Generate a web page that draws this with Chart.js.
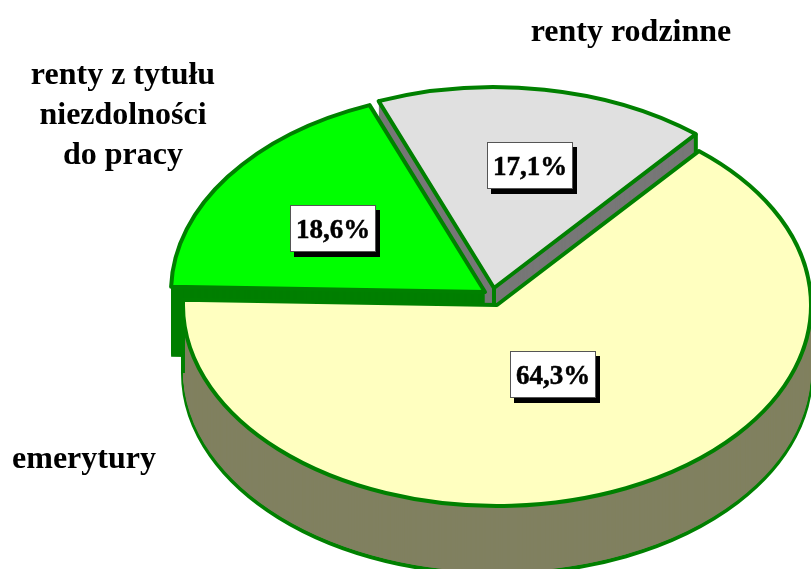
<!DOCTYPE html>
<html>
<head>
<meta charset="utf-8">
<style>
  html, body { margin: 0; padding: 0; background: #fff; overflow: hidden; }
  canvas { display: block; }
</style>
<script src="https://cdn.jsdelivr.net/npm/chart.js@4/dist/chart.umd.js"></script>
</head>
<body>
<canvas id="myChart" width="811" height="569"></canvas>
<script>
const categories = ['emerytury', 'renty z tytułu niezdolności do pracy', 'renty rodzinne'];
const values = [64.3, 18.6, 17.1];
const topColors = ['#ffffc0', '#00ff00', '#e0e0e0'];
const sideColors = ['#808060', '#007f00', '#777777'];

// where each slice sits on the page (pie centre, after the explode)
const centers = [{ x: 497, y: 305 }, { x: 485, y: 292 }, { x: 494, y: 288 }];
const depths = [68, 72, 60];
const squash = 0.64;
const rimColor = '#008000';

// label text lines + page position
const nameLabels = [
    { lines: ['emerytury'], x: 84, y: 468 },
    { lines: ['renty z tytułu', 'niezdolności', 'do pracy'], x: 123, y: 84, step: 40 },
    { lines: ['renty rodzinne'], x: 631, y: 41 }
];
const boxes = [{ x: 510, y: 351 }, { x: 290, y: 205 }, { x: 487, y: 142 }];

class Pie3dController extends Chart.PieController {
    paintArc(arc, i, shift, over) {
        const ctx = this.chart.ctx;
        const c = centers[i];
        const base = arc.options;
        ctx.save();
        ctx.translate(c.x, c.y + shift);
        ctx.scale(1, squash);
        ctx.translate(-arc.x, -arc.y);
        arc.options = Object.assign(Object.create(base), over);
        arc.draw(ctx);
        arc.options = base;
        ctx.restore();
    }

    rimLine(x, y, length) {
        const ctx = this.chart.ctx;
        ctx.save();
        ctx.strokeStyle = rimColor;
        ctx.lineWidth = 4;
        ctx.beginPath();
        ctx.moveTo(x, y);
        ctx.lineTo(x, y + length);
        ctx.stroke();
        ctx.restore();
    }

    draw() {
        const ctx = this.chart.ctx;
        const arcs = this.getMeta().data;

        // keep the rim line the same width, the squash should not thin it
        const realStroke = ctx.stroke;
        ctx.stroke = function () {
            ctx.save();
            ctx.setTransform(1, 0, 0, 1, 0, 0);
            realStroke.call(ctx);
            ctx.restore();
        };

        [2, 1, 0].forEach(i => {
            const arc = arcs[i];
            const c = centers[i];
            const depth = depths[i];
            if (i === 0) {
                this.paintArc(arc, i, depth, { backgroundColor: sideColors[i] });
            }
            for (let d = depth - 2; d > 0; d--) {
                this.paintArc(arc, i, d, { backgroundColor: sideColors[i], borderWidth: 0 });
            }
            if (i === 0) {
                // left silhouette of the big slice
                this.rimLine(c.x - arc.outerRadius, c.y, depth);
            }
            if (i === 2) {
                // vertical edges of the grey wall
                const ex = c.x + Math.cos(arc.endAngle) * arc.outerRadius;
                const ey = c.y + Math.sin(arc.endAngle) * arc.outerRadius * squash;
                this.rimLine(ex, ey, 20);
                this.rimLine(c.x, c.y, 20);
            }
            this.paintArc(arc, i, 0, {});
        });

        delete ctx.stroke;
    }
}
Pie3dController.id = 'pie3d';
Pie3dController.defaults = Chart.PieController.defaults;
Chart.register(Pie3dController);

const textPlugin = {
    id: 'textPlugin',
    afterDatasetsDraw(chart) {
        const ctx = chart.ctx;
        ctx.save();
        ctx.textAlign = 'center';
        ctx.textBaseline = 'alphabetic';
        ctx.fillStyle = '#000';
        ctx.font = 'bold 32px "Liberation Serif"';
        nameLabels.forEach(l => {
            l.lines.forEach((t, n) => ctx.fillText(t, l.x, l.y + n * (l.step || 0)));
        });

        ctx.font = 'bold 27px "Liberation Serif"';
        values.forEach((v, i) => {
            const b = boxes[i];
            ctx.fillStyle = '#000';
            ctx.fillRect(b.x + 4, b.y + 5, 86, 47);
            ctx.fillStyle = '#fff';
            ctx.fillRect(b.x, b.y, 86, 47);
            ctx.strokeStyle = '#555';
            ctx.lineWidth = 1;
            ctx.strokeRect(b.x + 0.5, b.y + 0.5, 85, 46);
            ctx.fillStyle = '#000';
            ctx.strokeStyle = '#000';
            ctx.lineWidth = 0.5;
            const text = v.toFixed(1).replace('.', ',') + '%';
            ctx.fillText(text, b.x + 43, b.y + 33);
            ctx.strokeText(text, b.x + 43, b.y + 33);
        });
        ctx.restore();
    }
};

new Chart(document.getElementById('myChart'), {
    type: 'pie3d',
    data: {
        labels: categories,
        datasets: [{
            data: values,
            backgroundColor: topColors,
            borderColor: rimColor,
            borderWidth: 4,
            borderJoinStyle: 'round',
            radius: 314,
            rotation: 40
        }]
    },
    options: {
        responsive: false,
        animation: false,
        plugins: { legend: { display: false }, tooltip: { enabled: false } }
    },
    plugins: [textPlugin]
});
</script>
</body>
</html>
